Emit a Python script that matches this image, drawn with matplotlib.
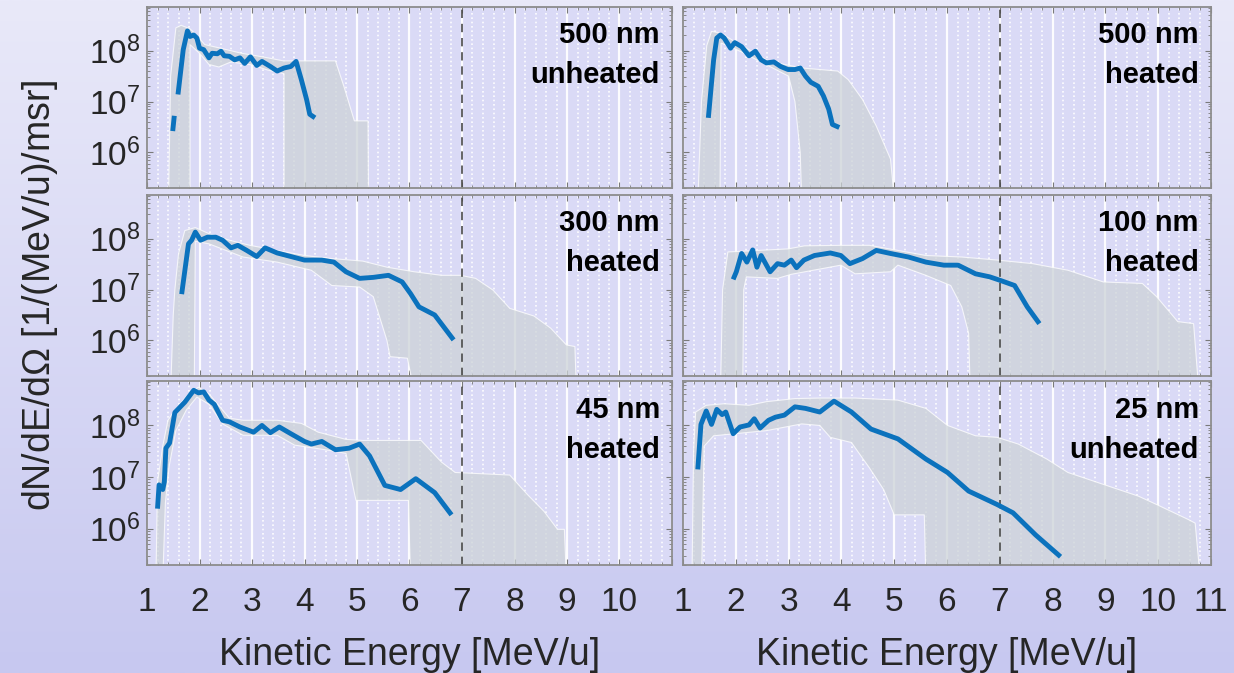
import numpy as np
import matplotlib
matplotlib.use("Agg")
import matplotlib.pyplot as plt
from matplotlib.ticker import LogLocator, MultipleLocator, FixedLocator, FixedFormatter, NullFormatter

plt.rcParams['font.family'] = ['Liberation Sans', 'DejaVu Sans']
plt.rcParams['mathtext.default'] = 'regular'

# ---------------- data (energies in MeV/u, intensities as log10) ----------------
labels = [("500 nm", "unheated"), ("500 nm", "heated"),
          ("300 nm", "heated"), ("100 nm", "heated"),
          ("45 nm", "heated"), ("25 nm", "unheated")]

nan = np.nan
line_x_500u = [1.49, 1.52, nan, 1.59, 1.69, 1.77, 1.82, 1.89, 1.95, 2.00, 2.08, 2.18, 2.24, 2.34, 2.41, 2.47,
               2.57, 2.67, 2.77, 2.86, 2.97, 3.09, 3.19, 3.35, 3.48, 3.61, 3.74, 3.84, 3.94, 4.04, 4.10, 4.20]
line_y_500u = [6.42, 6.72, nan, 7.14, 8.02, 8.39, 8.28, 8.31, 8.25, 8.05, 8.02, 7.86, 7.95, 7.94, 7.99, 7.90,
               7.89, 7.82, 7.86, 7.75, 7.88, 7.71, 7.79, 7.69, 7.60, 7.66, 7.69, 7.79, 7.43, 7.04, 6.75, 6.68]
band_x_500u = [1.41, 1.45, 1.55, 1.65, 1.82, 1.95, 2.10, 2.40, 2.80, 3.20, 3.60, 3.74, 4.59, 4.75, 4.95, 5.21, 5.22,
               3.61, 3.61, 3.30, 3.00, 2.60, 2.37, 2.18, 2.00, 1.82, 1.82]
band_y_500u = [5.0, 7.5, 8.45, 8.50, 8.43, 8.30, 8.12, 8.05, 7.95, 7.88, 7.80, 7.80, 7.80, 7.30, 6.62, 6.62, 5.0,
               5.0, 7.55, 7.62, 7.72, 7.78, 7.68, 7.73, 7.95, 8.12, 5.0]

line_x_500h = [1.48, 1.58, 1.64, 1.71, 1.78, 1.90, 1.98, 2.11, 2.25, 2.37, 2.48, 2.58, 2.72, 2.85, 2.99, 3.12,
               3.22, 3.32, 3.42, 3.56, 3.66, 3.76, 3.83, 3.96]
line_y_500h = [6.68, 7.82, 8.25, 8.31, 8.25, 8.05, 8.16, 8.08, 7.90, 7.99, 7.82, 7.76, 7.78, 7.69, 7.63, 7.63,
               7.66, 7.50, 7.38, 7.30, 7.11, 6.85, 6.55, 6.49]
band_x_500h = [1.28, 1.35, 1.45, 1.54, 1.71, 1.98, 2.25, 2.58, 2.92, 3.26, 3.93, 4.13, 4.40, 4.66, 4.93, 5.01,
               3.25, 3.22, 3.12, 3.00, 2.70, 2.40, 2.10, 1.85, 1.72, 1.70]
band_y_500h = [5.0, 7.0, 8.10, 8.38, 8.35, 8.18, 8.02, 7.82, 7.73, 7.66, 7.60, 7.43, 7.04, 6.52, 5.87, 5.0,
               5.0, 6.0, 7.0, 7.50, 7.66, 7.82, 7.98, 8.10, 8.15, 5.0]

line_x_300h = [1.66, 1.79, 1.85, 1.92, 2.02, 2.15, 2.31, 2.44, 2.60, 2.73, 2.90, 3.09, 3.25, 3.48, 3.74, 4.00,
               4.33, 4.56, 4.79, 5.05, 5.31, 5.60, 5.86, 6.02, 6.18, 6.48, 6.84]
line_y_300h = [6.91, 7.90, 7.97, 8.13, 7.97, 8.03, 8.03, 7.97, 7.82, 7.87, 7.77, 7.65, 7.82, 7.72, 7.65, 7.58,
               7.58, 7.54, 7.35, 7.22, 7.24, 7.28, 7.15, 6.92, 6.66, 6.50, 6.01]
band_x_300h = [1.45, 1.50, 1.53, 1.60, 1.72, 1.92, 2.18, 2.57, 2.96, 3.48, 4.00, 4.52, 5.11, 5.57, 6.09, 6.61,
               6.97, 7.26, 7.59, 7.91, 8.37, 8.69, 8.99, 9.15, 9.18,
               6.09, 5.96, 5.63, 5.57, 5.31, 5.05, 4.52, 4.13, 3.48, 2.83, 2.18, 1.92, 1.90]
band_y_300h = [5.0, 6.5, 6.99, 7.70, 8.16, 8.22, 8.10, 7.97, 7.87, 7.77, 7.67, 7.61, 7.56, 7.44, 7.35, 7.28,
               7.28, 7.22, 6.99, 6.63, 6.48, 6.24, 5.91, 5.88, 5.0,
               5.0, 5.65, 5.68, 6.0, 6.86, 7.05, 7.08, 7.38, 7.54, 7.64, 7.90, 7.95, 5.0]

line_x_100h = [1.95, 2.01, 2.11, 2.21, 2.32, 2.40, 2.48, 2.65, 2.79, 2.92, 3.05, 3.15, 3.29, 3.49, 3.79, 3.99,
               4.16, 4.40, 4.66, 4.93, 5.27, 5.60, 5.94, 6.21, 6.54, 6.81, 7.01, 7.28, 7.52, 7.75]
line_y_100h = [7.20, 7.35, 7.71, 7.54, 7.78, 7.44, 7.67, 7.35, 7.51, 7.48, 7.58, 7.43, 7.58, 7.67, 7.72, 7.67,
               7.51, 7.61, 7.77, 7.71, 7.64, 7.54, 7.48, 7.48, 7.31, 7.25, 7.18, 7.08, 6.66, 6.33]
band_x_100h = [1.71, 1.75, 1.85, 2.99, 3.30, 3.99, 4.53, 5.07, 5.60, 6.28, 6.95, 7.62, 8.29, 8.96, 9.70, 9.97,
               10.37, 10.67, 10.77,
               6.44, 6.41, 6.28, 6.07, 5.60, 5.07, 4.93, 4.26, 3.99, 3.05, 2.79, 2.20, 2.15, 2.13]
band_y_100h = [5.0, 7.0, 7.74, 7.80, 7.86, 7.87, 7.87, 7.77, 7.67, 7.64, 7.58, 7.51, 7.38, 7.15, 7.12, 6.86,
               6.37, 6.33, 5.0,
               5.0, 6.14, 6.66, 7.08, 7.28, 7.48, 7.35, 7.31, 7.48, 7.30, 7.22, 7.25, 7.0, 5.0]

line_x_45h = [1.20, 1.23, 1.30, 1.33, 1.36, 1.43, 1.53, 1.72, 1.89, 1.98, 2.08, 2.18, 2.28, 2.44, 2.57, 2.77,
              3.03, 3.19, 3.35, 3.52, 3.74, 4.00, 4.13, 4.33, 4.59, 4.85, 5.05, 5.24, 5.53, 5.83, 6.12, 6.48, 6.80]
line_y_45h = [6.39, 6.85, 6.76, 6.91, 7.56, 7.66, 8.25, 8.45, 8.68, 8.63, 8.65, 8.49, 8.41, 8.10, 8.07, 7.97,
              7.87, 8.00, 7.86, 7.97, 7.84, 7.69, 7.64, 7.69, 7.53, 7.56, 7.64, 7.41, 6.84, 6.76, 6.97, 6.70, 6.27]
band_x_45h = [1.17, 1.20, 1.30, 1.40, 1.53, 1.79, 1.98, 2.18, 2.57, 2.83, 3.48, 3.94, 4.26, 4.79, 5.11, 6.22,
              6.61, 6.87, 7.91, 8.24, 8.56, 8.82, 8.95, 8.99,
              6.02, 5.98, 4.98, 4.79, 4.46, 3.81, 3.48, 2.83, 2.44, 2.18, 1.95, 1.75, 1.55, 1.42, 1.35, 1.30]
band_y_45h = [5.0, 6.9, 7.6, 8.1, 8.30, 8.61, 8.74, 8.61, 8.14, 8.10, 8.10, 8.04, 7.87, 7.73, 7.71, 7.71,
              7.29, 7.09, 7.04, 6.67, 6.34, 5.99, 5.99, 5.0,
              5.0, 6.55, 6.55, 7.46, 7.52, 7.62, 7.81, 7.81, 8.03, 8.41, 8.55, 8.30, 7.9, 7.2, 6.5, 5.0]

line_x_25u = [1.28, 1.34, 1.44, 1.54, 1.64, 1.74, 1.81, 1.95, 2.08, 2.25, 2.35, 2.46, 2.62, 2.75, 2.92, 3.12,
              3.32, 3.59, 3.86, 4.19, 4.56, 5.07, 5.60, 6.01, 6.41, 6.95, 7.25, 7.68, 8.15]
line_y_25u = [7.15, 8.02, 8.28, 8.02, 8.31, 8.21, 8.26, 7.84, 7.97, 8.01, 8.13, 7.95, 8.10, 8.16, 8.20, 8.36,
              8.33, 8.26, 8.47, 8.26, 7.93, 7.74, 7.35, 7.09, 6.73, 6.47, 6.31, 5.88, 5.46]
band_x_25u = [1.17, 1.20, 1.24, 1.44, 1.78, 2.25, 2.58, 3.12, 3.59, 4.26, 5.07, 5.60, 6.01, 6.54, 6.95, 7.35,
              7.89, 8.29, 8.96, 9.63, 9.97, 10.57, 10.70, 10.80,
              5.60, 5.57, 5.00, 4.80, 4.53, 4.19, 3.79, 3.59, 3.25, 2.58, 1.98, 1.58, 1.40, 1.35]
band_y_25u = [5.0, 7.5, 8.26, 8.39, 8.42, 8.39, 8.46, 8.52, 8.53, 8.53, 8.49, 8.33, 8.0, 7.80, 7.77, 7.64,
              7.35, 7.09, 6.86, 6.63, 6.47, 6.18, 6.11, 5.0,
              5.0, 6.27, 6.27, 6.76, 7.18, 7.67, 7.77, 8.0, 8.03, 7.90, 7.84, 7.80, 7.6, 5.0]

lines = [(line_x_500u, line_y_500u), (line_x_500h, line_y_500h), (line_x_300h, line_y_300h),
         (line_x_100h, line_y_100h), (line_x_45h, line_y_45h), (line_x_25u, line_y_25u)]
bands = [(band_x_500u, band_y_500u), (band_x_500h, band_y_500h), (band_x_300h, band_y_300h),
         (band_x_100h, band_y_100h), (band_x_45h, band_y_45h), (band_x_25u, band_y_25u)]

x_ticks = [1, 2, 3, 4, 5, 6, 7, 8, 9, 10, 11]
x_ticklabels_left = ["1", "2", "3", "4", "5", "6", "7", "8", "9", "10", ""]
x_ticklabels_right = ["1", "2", "3", "4", "5", "6", "7", "8", "9", "10", "11"]
y_ticks = [1e6, 1e7, 1e8]
y_ticklabels = [r"$10^{6}$", r"$10^{7}$", r"$10^{8}$"]
cutoff_energy = 7.0
xlim = (1, 11)
ylim = (10 ** 5.3, 10 ** 8.86)

# ---------------- figure ----------------
W, H = 1234, 673
fig = plt.figure(figsize=(W / 100, H / 100), dpi=100)

bg = fig.add_axes([0, 0, 1, 1], zorder=-10)
top_c = np.array([233, 233, 249]) / 255
bot_c = np.array([199, 200, 240]) / 255
t = np.linspace(0, 1, 256)[:, None, None]
grad = top_c * (1 - t) + bot_c * t
grad = np.repeat(grad, 2, axis=1)
bg.imshow(grad, aspect='auto', extent=[0, 1, 0, 1])
bg.set_axis_off()

col_x = [(147, 672), (683, 1211)]
row_y = [(7, 188), (195, 376), (381, 565)]

panel_bg = '#DADAF6'
band_color = '#CDD3D8'
line_color = '#0B72BD'
text_color = '#262626'

for i in range(6):
    r, c = divmod(i, 2)
    x0, x1 = col_x[c]
    y0, y1 = row_y[r]
    ax = fig.add_axes([x0 / W, 1 - y1 / H, (x1 - x0) / W, (y1 - y0) / H])
    ax.set_facecolor(panel_bg)
    ax.set_yscale('log')
    ax.set_xlim(*xlim)
    ax.set_ylim(*ylim)

    # grid
    ax.set_axisbelow(True)
    ax.xaxis.set_major_locator(FixedLocator(x_ticks))
    ax.xaxis.set_minor_locator(MultipleLocator(0.2))
    ax.grid(True, which='major', axis='x', color='white', lw=1.6, alpha=0.95)
    ax.grid(True, which='minor', axis='x', color='white', lw=1.2, ls=(0, (1.0, 1.6)), alpha=0.95)

    bx, by = bands[i]
    ax.fill(bx, 10 ** np.array(by), facecolor=band_color, edgecolor='white', lw=0.8,
            alpha=0.75, zorder=1.5)

    lx, ly = lines[i]
    ax.plot(lx, 10 ** np.array(ly), color=line_color, lw=3.5, solid_capstyle='butt',
            solid_joinstyle='round', zorder=3)

    ax.axvline(cutoff_energy, color='#4a4a4a', lw=1.2, ls=(0, (5, 3.5)), zorder=2.5)

    top_lbl, bot_lbl = labels[i]
    ax.text(0.977, 0.80, top_lbl, transform=ax.transAxes, ha='right', va='baseline',
            fontsize=21, fontweight='bold', color='black', zorder=5)
    ax.text(0.977, 0.58, bot_lbl, transform=ax.transAxes, ha='right', va='baseline',
            fontsize=21, fontweight='bold', color='black', zorder=5)

    ax.yaxis.set_major_locator(FixedLocator(y_ticks))
    ax.yaxis.set_minor_locator(LogLocator(base=10, subs=np.arange(2, 10)))
    ax.yaxis.set_minor_formatter(NullFormatter())
    if c == 0:
        ax.yaxis.set_major_formatter(FixedFormatter(y_ticklabels))
    else:
        ax.yaxis.set_major_formatter(NullFormatter())

    if r == 2:
        ax.xaxis.set_major_formatter(FixedFormatter(x_ticklabels_left if c == 0 else x_ticklabels_right))
    else:
        ax.xaxis.set_major_formatter(NullFormatter())

    ax.tick_params(which='both', direction='in', top=True, right=True, colors='#7a7a7a',
                   labelcolor=text_color, labelsize=24)
    ax.tick_params(which='major', length=4, width=0.8)
    ax.tick_params(which='minor', length=2, width=0.6)
    ax.tick_params(axis='x', which='major', pad=16)
    ax.tick_params(axis='y', which='major', pad=5)
    for s in ax.spines.values():
        s.set_color('#8c8c8c')
        s.set_linewidth(1.3)

fig.text(40 / W, 1 - 295 / H, r"dN/dE/d$\Omega$ [1/(MeV/u)/msr]", rotation=90,
         ha='center', va='center', fontsize=27, color=text_color)
fig.text((147 + 672) / 2 / W, 1 - 655 / H, "Kinetic Energy [MeV/u]", ha='center', va='center',
         fontsize=27, color=text_color)
fig.text((683 + 1211) / 2 / W, 1 - 655 / H, "Kinetic Energy [MeV/u]", ha='center', va='center',
         fontsize=27, color=text_color)

fig.savefig("out.png", dpi=100)
